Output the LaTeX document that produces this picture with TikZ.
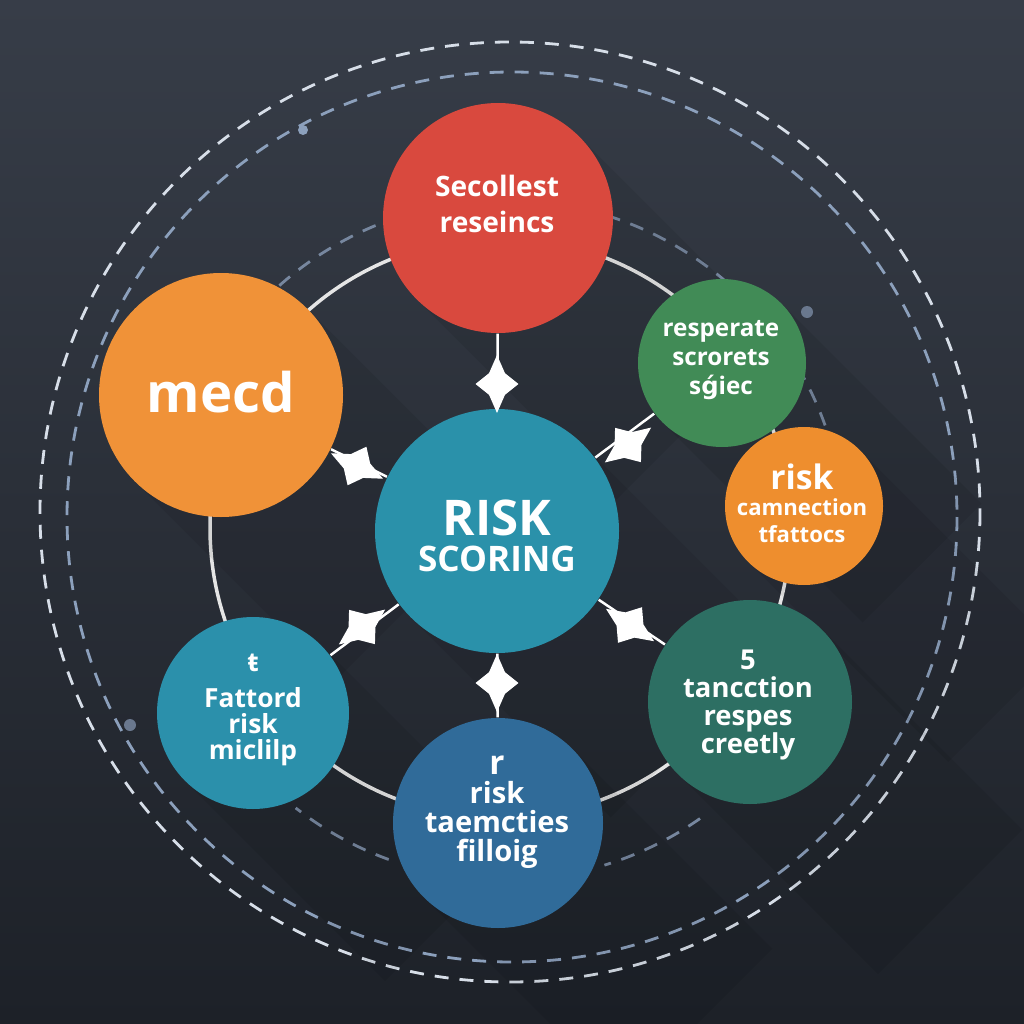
\documentclass[tikz,border=0pt]{standalone}
\usepackage{fontspec}
\setmainfont{Open Sans}
\newfontfamily\dejafont{DejaVu Sans}
\usetikzlibrary{shapes.geometric, positioning, backgrounds}

\definecolor{bgtop}{RGB}{55,61,72}
\definecolor{bgbot}{RGB}{29,33,40}
\definecolor{redc}{RGB}{217,73,62}
\definecolor{orangec}{RGB}{240,146,56}
\definecolor{greenc}{RGB}{65,139,86}
\definecolor{amberc}{RGB}{238,142,46}
\definecolor{tealc}{RGB}{42,145,170}
\definecolor{cyanc}{RGB}{43,144,171}
\definecolor{bluec}{RGB}{48,107,153}
\definecolor{pinec}{RGB}{45,111,99}
\definecolor{orbitw}{RGB}{215,222,232}
\definecolor{orbitb}{RGB}{140,160,188}

\tikzset{
	bubble/.style={circle, inner sep=0pt, draw=none},
	caption/.style={text=white, align=center, inner sep=0pt},
	spark/.style={star, star points=4, star point ratio=1.9, fill=white, draw=none, inner sep=0pt, minimum size=5.8mm, rotate=#1, yscale=0.74},
	stem/.style={draw=white, line width=0.25mm},
	ring/.style={draw=white!90!black, line width=0.35mm},
	orbit/.style={dash pattern=on 1.4mm off 1.1mm, line width=0.28mm},
	castshadow/.style={fill=black, opacity=0.07}
}

\begin{document}
\begin{tikzpicture}[x=0.1mm, y=-0.1mm]
	\useasboundingbox (0,0) rectangle (1024,1024);

	\node[bubble, fill=redc, minimum size=23mm] (sel) at (498,218) {};
	\node[bubble, fill=orangec, minimum size=24.4mm] (mecd) at (221,395) {};
	\node[bubble, fill=greenc, minimum size=16.8mm] (resp) at (722,363) {};
	\node[bubble, fill=amberc, minimum size=15.8mm] (conn) at (804,506) {};
	\node[bubble, fill=tealc, minimum size=24.4mm] (risk) at (497,531) {};
	\node[bubble, fill=pinec, minimum size=20.4mm] (tanc) at (750,702) {};
	\node[bubble, fill=bluec, minimum size=21mm] (filg) at (498,823) {};
	\node[bubble, fill=cyanc, minimum size=19.2mm] (fatt) at (253,713) {};

	\begin{scope}[on background layer]
		\shade[top color=bgtop, bottom color=bgbot] (0,0) rectangle (1024,1024);
		\draw[orbit, orbitw] (510,512) circle[radius=470];
		\draw[orbit, orbitb] (512,517) circle[radius=445];
		\draw[orbit, orbitb!75!bgtop] (505,540) ++(-140:340) arc[start angle=-140, end angle=-15, radius=340];
		\draw[orbit, orbitb!75!bgtop] (505,540) ++(55:340) arc[start angle=55, end angle=73, radius=340];
		\draw[orbit, orbitb!75!bgtop] (505,540) ++(110:340) arc[start angle=110, end angle=128, radius=340];
		\fill[orbitb] (303,130) circle[radius=5];
		\fill[orbitb!60!bgtop] (807,312) circle[radius=6];
		\fill[orbitb!60!bgtop] (130,725) circle[radius=6];
		\draw[ring] (500,528) circle[radius=290];
		\foreach \c/\r in {sel/115, mecd/122, resp/84, conn/79, risk/122, tanc/102, filg/105, fatt/96}
			\fill[castshadow] (\c) ++(-45:\r) -- ++(200,200) -- ++(135:2*\r) -- ++(-200,-200) -- cycle;
		\draw[stem]
			(risk) -- (sel)
			(risk) -- (mecd)
			(risk) -- (resp)
			(risk) -- (fatt)
			(risk) -- (tanc)
			(risk) -- (filg)
			;
	\end{scope}

	\node[spark=90] (s1) at (497,384) {};
	\node[spark=-26] (s2) at (357,466) {};
	\node[spark=37] (s3) at (628,445) {};
	\node[spark=37] (s4) at (362,627) {};
	\node[spark=-34] (s5) at (630,625) {};
	\node[spark=90] (s6) at (497,683) {};

	\node[caption, font=\fontsize{8}{10}\selectfont\bfseries] (sel-t) at (497,204) {Secollest\\reseincs};
	\node[caption, font=\fontsize{15.5}{18}\selectfont\bfseries] (mecd-t) at (221,392) {mecd};
	\node[caption, font=\fontsize{6.9}{8.2}\selectfont\bfseries] (resp-t) at (721,360) {resperate\\scrorets\\s{\dejafont ǵ}iec};
	\node[caption, font=\fontsize{6.3}{7.6}\selectfont\bfseries] (conn-t) at (802,503) {{\fontsize{9.6}{10}\selectfont risk}\\camnection\\tfattocs};
	\node[caption, font=\fontsize{10}{10.2}\selectfont\bfseries] (risk-t) at (497,536) {{\fontsize{14}{15}\selectfont RISK}\\SCORING};
	\node[caption, font=\fontsize{7.8}{8}\selectfont\bfseries] (tanc-t) at (748,705) {5\\tancction\\respes\\creetly};
	\node[caption, font=\fontsize{8.3}{8.2}\selectfont\bfseries] (filg-t) at (497,812) {{\fontsize{9.5}{9}\selectfont r}\\risk\\taemcties\\filloig};
	\node[caption, font=\fontsize{7.5}{7.4}\selectfont\bfseries] (fatt-t) at (253,710) {ŧ\\[3pt]Fattord\\risk\\miclilp};
\end{tikzpicture}
\end{document}
